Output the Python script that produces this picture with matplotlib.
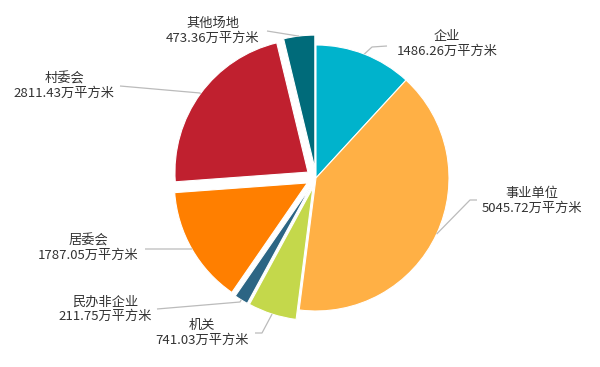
import numpy as np
import matplotlib
matplotlib.use("Agg")
import matplotlib.pyplot as plt

plt.rcParams['font.family'] = ['Noto Sans CJK SC', 'DejaVu Sans']

categories = ['企业', '事业单位', '机关', '民办非企业', '居委会', '村委会', '其他场地']
values = [1486.26, 5045.72, 741.03, 211.75, 1787.05, 2811.43, 473.36]
unit = '万平方米'
colors = ['#00B3CC', '#FFB045', '#C4D84B', '#2C6584', '#FF7F00', '#C0202F', '#006B7A']
explode_frac = [0, 0, 0.075, 0.075, 0.075, 0.075, 0.075]

W, H = 600, 367
fig = plt.figure(figsize=(6.0, 3.67), dpi=100)
ax = fig.add_axes([0, 0, 1, 1])

cx, cy, R = 316, H - 178, 133
explode = [e * R for e in explode_frac]  # matplotlib explode is in data units
wedges, _ = ax.pie(values, colors=colors, explode=explode, startangle=90,
                   counterclock=False, center=(cx, cy), radius=R,
                   wedgeprops=dict(edgecolor='white', linewidth=0.8),
                   frame=True)
ax.set_xlim(0, W)
ax.set_ylim(0, H)
ax.set_aspect('equal')
ax.axis('off')

# label layout (pixel coords, y down): text center, elbow, line end
label_pos = [(447, 44), (532, 201), (202, 333), (105, 309), (88, 248), (64, 86), (213, 31)]
elbows = [(372, 47), (470, 200), (262, 333), (240, 302), (192, 249), (200, 93), (298, 36)]
ends = [(387, 46), (477, 200), (255, 333), (157, 309), (145, 249), (120, 86), (267, 31)]

for w, v, name, lp, el, en, ex in zip(wedges, values, categories, label_pos, elbows, ends, explode):
    mid = np.deg2rad((w.theta1 + w.theta2) / 2)
    r = R + ex
    sx, sy = cx + r * np.cos(mid), cy + r * np.sin(mid)
    xs = [sx, el[0], en[0]]
    ys = [sy, H - el[1], H - en[1]]
    ax.plot(xs, ys, color='#BBBBBB', lw=0.9, solid_capstyle='butt')
    ax.text(lp[0], H - lp[1], f'{name}\n{v:.2f}{unit}', ha='center', va='center',
            fontsize=9.5, color='#333333', linespacing=1.15)

fig.savefig('out.png', dpi=100)
